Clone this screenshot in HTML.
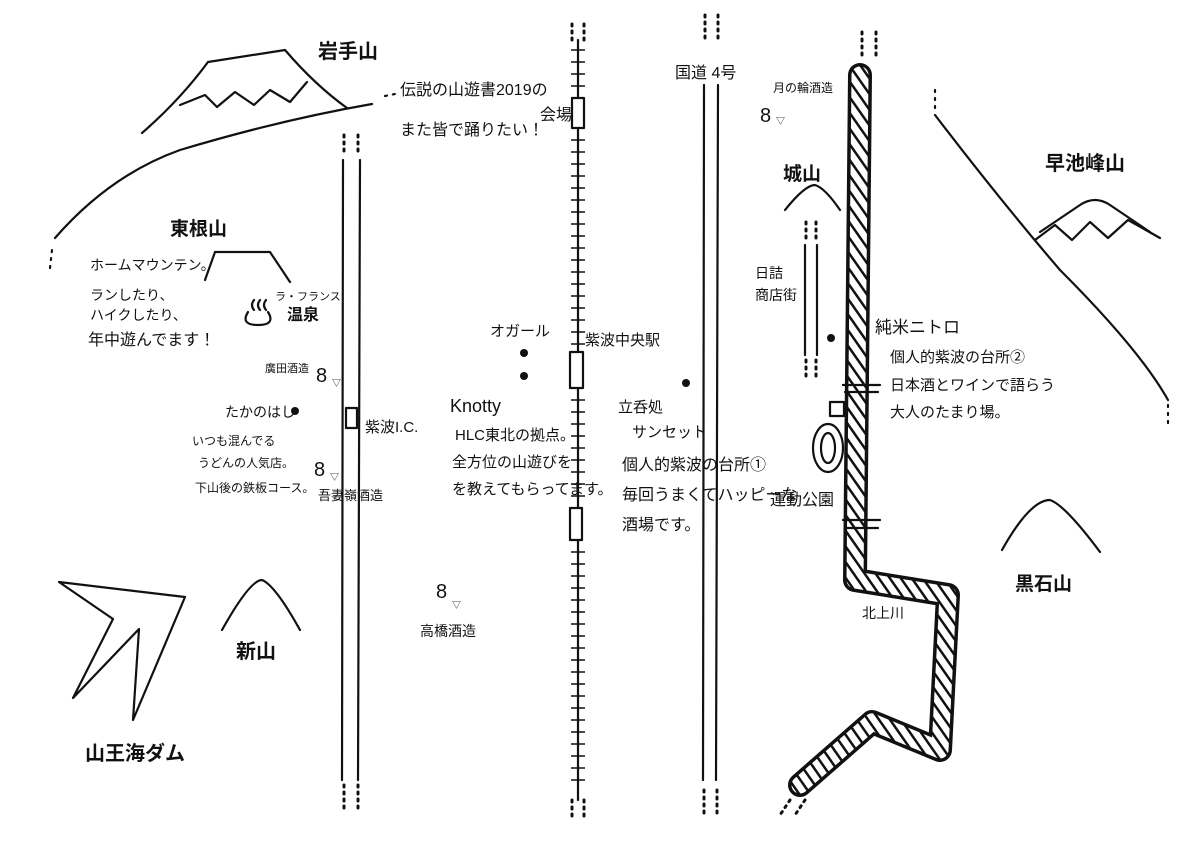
<!DOCTYPE html>
<html><head><meta charset="utf-8"><style>
html,body{margin:0;padding:0;background:#fff;}
svg text{font-family:"Liberation Sans","Noto Sans CJK JP",sans-serif;fill:#111;}
</style></head><body>
<svg width="1191" height="842" viewBox="0 0 1191 842" xmlns="http://www.w3.org/2000/svg">
<defs>
<pattern id="h" width="9" height="9" patternUnits="userSpaceOnUse" patternTransform="rotate(-35)">
<rect width="9" height="9" fill="#fff"/><rect x="0" y="0" width="2.5" height="9" fill="#111"/>
</pattern>
</defs>
<g fill="none" stroke="#111" stroke-width="2.2" stroke-linecap="round" stroke-linejoin="round">
<!-- Iwate -->
<path d="M142,133 Q180,100 208,62 L285,50 Q315,85 347,108"/>
<path d="M180,105 L205,95 L217,107 L235,92 L254,105 L270,90 L290,102 L307,82"/>
<!-- big curve -->
<path d="M55,238 Q110,175 180,150 Q280,120 372,104"/>
<path d="M50,268 L52,250 M385,96 L395,94" stroke-dasharray="2 6"/>
<!-- road left -->
<path d="M343,160 L342,780 M360,160 L358,780"/>
<path d="M344,135 L344,155 M358,135 L358,155 M344,785 L344,810 M358,785 L358,810" stroke-dasharray="2 5" stroke-width="3"/>
<rect x="346" y="408" width="11" height="20" fill="#fff"/>
<!-- railway -->
<path d="M578,40 L578,800"/>
<path d="M572,40 L572,20 M584,40 L584,20 M572,800 L572,820 M584,800 L584,820" stroke-dasharray="2 5" stroke-width="3"/>
<rect x="572" y="98" width="12" height="30" fill="#fff"/>
<rect x="570" y="352" width="13" height="36" fill="#fff"/>
<rect x="570" y="508" width="12" height="32" fill="#fff"/>
<!-- route 4 -->
<path d="M704,85 L703,780 M718,85 L716,780"/>
<path d="M705,15 L705,40 M718,15 L718,40 M704,790 L704,815 M717,790 L717,815" stroke-dasharray="2 5" stroke-width="3"/>
<!-- shopping street -->
<path d="M805,245 L805,355 M817,245 L817,355"/>
<path d="M806,222 L806,240 M816,222 L816,240 M806,360 L806,380 M816,360 L816,380" stroke-dasharray="2 5" stroke-width="3"/>
<!-- river -->
<path d="M860,75 L855,580 L948,595 L940,750 L872,722 L800,785" stroke="#111" stroke-width="24"/>
<path d="M860,75 L855,580 L948,595 L940,750 L872,722 L800,785" stroke="url(#h)" stroke-width="17"/>
<path d="M862,32 L862,60 M876,32 L876,60 M790,800 L780,815 M805,800 L795,815" stroke-dasharray="2 5" stroke-width="3"/>
<path d="M843,385 L880,385 M843,520 L880,520 M845,392 L878,392 M845,528 L878,528"/>
<rect x="830" y="402" width="14" height="14" fill="#fff"/>
<ellipse cx="828" cy="448" rx="15" ry="24" fill="#fff"/>
<ellipse cx="828" cy="448" rx="7" ry="15"/>
<!-- right curve -->
<path d="M935,115 Q1000,200 1060,270 Q1140,350 1168,400"/>
<path d="M935,90 L935,108 M1168,405 L1168,425" stroke-dasharray="2 6"/>
<!-- mountains -->
<path d="M1040,232 L1080,205 Q1095,195 1110,205 L1150,232"/>
<path d="M1035,240 L1055,225 L1072,240 L1090,222 L1108,238 L1128,220 L1160,238"/>
<path d="M785,210 Q805,185 815,185 Q825,188 840,210"/>
<path d="M1002,550 Q1030,500 1050,500 Q1065,505 1100,552"/>
<path d="M222,630 Q250,580 262,580 Q275,585 300,630"/>
<path d="M205,280 L215,252 L270,252 L290,282"/>
<!-- arrow -->
<path d="M59,582 L185,597 L133,720 L139,629 L73,698 L113,619 Z"/>
<!-- onsen -->
<path d="M248,312 Q240,325 258,325 Q276,325 268,312"/>
<path d="M254,310 q-4,-5 0,-10 M260,310 q-4,-5 0,-10 M266,310 q-4,-5 0,-10"/>
</g>
<g stroke="#111" stroke-width="1.5">
<path d="M571,50 H585 M571,62 H585 M571,74 H585 M571,86 H585 M571,140 H585 M571,152 H585 M571,164 H585 M571,176 H585 M571,188 H585 M571,200 H585 M571,212 H585 M571,224 H585 M571,236 H585 M571,248 H585 M571,260 H585 M571,272 H585 M571,284 H585 M571,296 H585 M571,308 H585 M571,320 H585 M571,332 H585 M571,344 H585 M571,400 H585 M571,412 H585 M571,424 H585 M571,436 H585 M571,448 H585 M571,460 H585 M571,472 H585 M571,484 H585 M571,496 H585 M571,552 H585 M571,564 H585 M571,576 H585 M571,588 H585 M571,600 H585 M571,612 H585 M571,624 H585 M571,636 H585 M571,648 H585 M571,660 H585 M571,672 H585 M571,684 H585 M571,696 H585 M571,708 H585 M571,720 H585 M571,732 H585 M571,744 H585 M571,756 H585 M571,768 H585 M571,780 H585"/>
</g>
<g fill="#111">
<circle cx="295" cy="411" r="4"/><circle cx="524" cy="353" r="4"/><circle cx="524" cy="376" r="4"/>
<circle cx="686" cy="383" r="4"/><circle cx="831" cy="338" r="4"/>
</g>
<g font-size="20">
<text x="316" y="382">8</text><text x="332" y="386" font-size="9">▽</text>
<text x="314" y="476">8</text><text x="330" y="480" font-size="9">▽</text>
<text x="436" y="598">8</text><text x="452" y="608" font-size="9">▽</text>
<text x="760" y="122">8</text><text x="776" y="124" font-size="9">▽</text>
</g>
<g font-size="16">
<text x="318" y="58" font-size="20" font-weight="bold">岩手山</text>
<text x="400" y="95">伝説の山遊書2019の</text>
<text x="540" y="120">会場</text>
<text x="400" y="135">また皆で踊りたい！</text>
<text x="675" y="78">国道 4号</text>
<text x="773" y="92" font-size="12">月の輪酒造</text>
<text x="783" y="180" font-size="19" font-weight="bold">城山</text>
<text x="1045" y="170" font-size="20" font-weight="bold">早池峰山</text>
<text x="170" y="235" font-size="19" font-weight="bold">東根山</text>
<text x="90" y="270" font-size="14">ホームマウンテン。</text>
<text x="90" y="300" font-size="14">ランしたり、</text>
<text x="90" y="320" font-size="14">ハイクしたり、</text>
<text x="88" y="345">年中遊んでます！</text>
<text x="275" y="300" font-size="11">ラ・フランス</text>
<text x="287" y="320" font-weight="bold">温泉</text>
<text x="265" y="372" font-size="11">廣田酒造</text>
<text x="755" y="278" font-size="14">日詰</text>
<text x="755" y="300" font-size="14">商店街</text>
<text x="875" y="333" font-size="17">純米ニトロ</text>
<text x="890" y="362" font-size="15">個人的紫波の台所②</text>
<text x="890" y="390" font-size="15">日本酒とワインで語らう</text>
<text x="890" y="417" font-size="15">大人のたまり場。</text>
<text x="490" y="336" font-size="15">オガール</text>
<text x="585" y="345" font-size="15">紫波中央駅</text>
<text x="450" y="412" font-size="18">Knotty</text>
<text x="455" y="440" font-size="15">HLC東北の拠点。</text>
<text x="452" y="467" font-size="15">全方位の山遊びを</text>
<text x="452" y="494" font-size="15">を教えてもらってます。</text>
<text x="225" y="417" font-size="14">たかのはし</text>
<text x="365" y="432" font-size="15">紫波I.C.</text>
<text x="192" y="445" font-size="12">いつも混んでる</text>
<text x="198" y="467" font-size="12">うどんの人気店。</text>
<text x="195" y="492" font-size="12">下山後の鉄板コース。</text>
<text x="318" y="500" font-size="13">吾妻嶺酒造</text>
<text x="618" y="412" font-size="15">立呑処</text>
<text x="632" y="437" font-size="15">サンセット</text>
<text x="622" y="470" font-size="16">個人的紫波の台所①</text>
<text x="622" y="500" font-size="16">毎回うまくてハッピーな</text>
<text x="622" y="530" font-size="16">酒場です。</text>
<text x="770" y="505" font-size="16">運動公園</text>
<text x="1015" y="590" font-size="19" font-weight="bold">黒石山</text>
<text x="862" y="618" font-size="14">北上川</text>
<text x="420" y="636" font-size="14">高橋酒造</text>
<text x="236" y="658" font-size="20" font-weight="bold">新山</text>
<text x="85" y="760" font-size="20" font-weight="bold">山王海ダム</text>
</g>
</svg>
</body></html>
